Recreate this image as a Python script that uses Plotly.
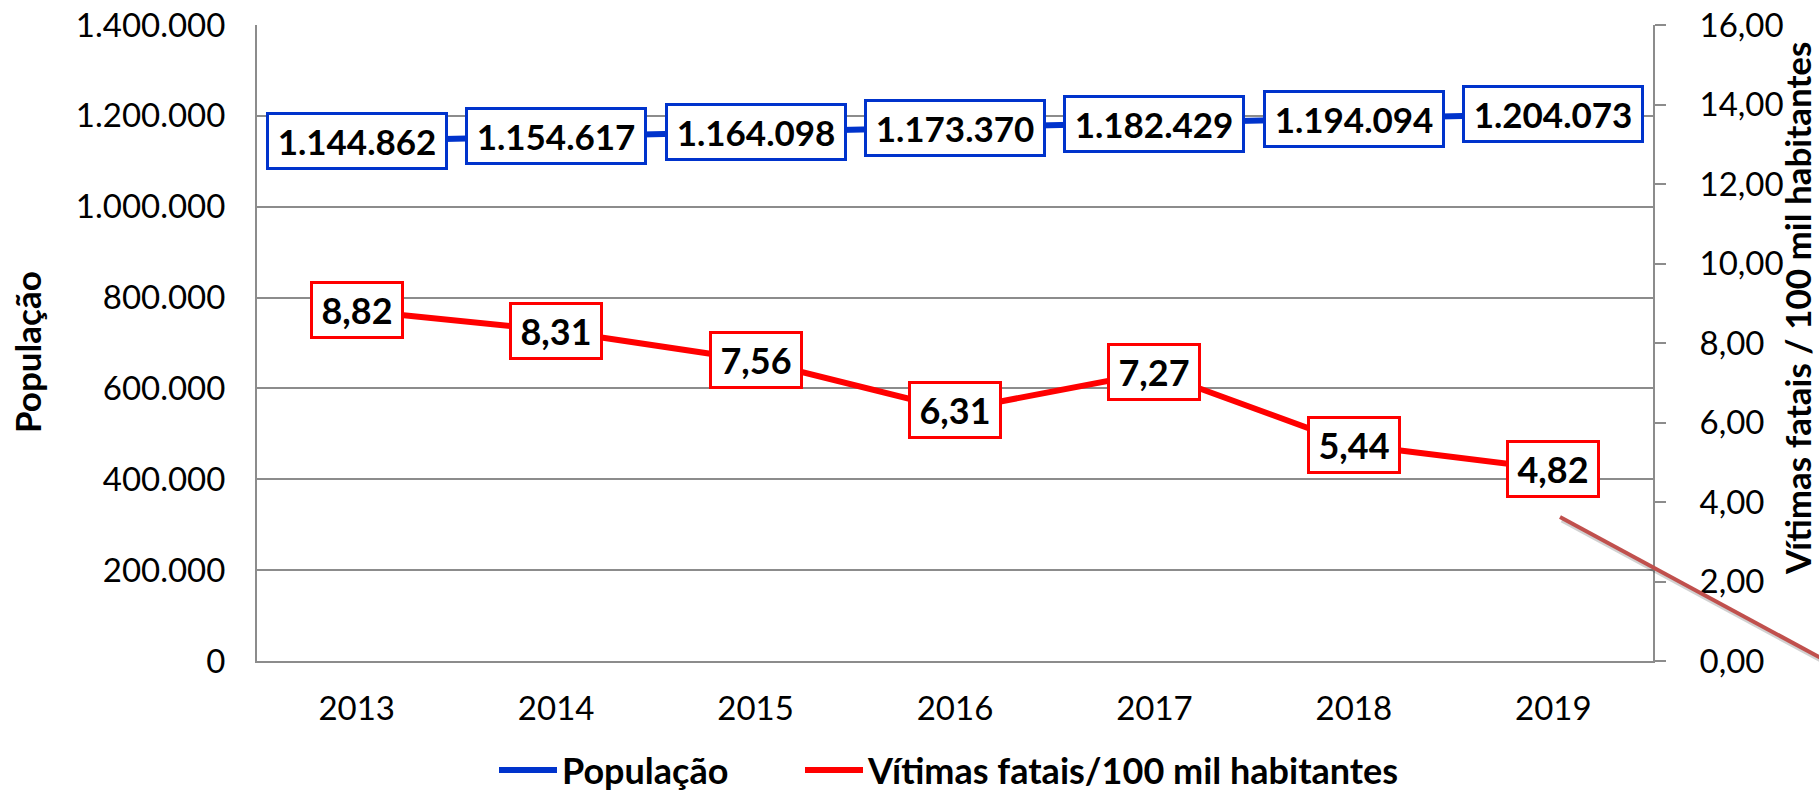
import plotly.graph_objects as go

# ---- data ----
anos = ["2013", "2014", "2015", "2016", "2017", "2018", "2019"]
populacao = [1144862, 1154617, 1164098, 1173370, 1182429, 1194094, 1204073]
vitimas_100mil = [8.82, 8.31, 7.56, 6.31, 7.27, 5.44, 4.82]

nome_pop = "População"
nome_vit = "Vítimas fatais/100 mil habitantes"
titulo_y1 = "População"
titulo_y2 = "Vítimas fatais / 100 mil habitantes"

# ---- style ----
BLUE = "#0033CC"
RED = "#FF0000"
GRID = "#8C8C8C"
FONT = "Lato"
W, H = 1819, 795
ML, MR, MT, MB = 257, 166, 25, 134


def fmt_int(v):
    return f"{v:,}".replace(",", ".")


def fmt_dec(v):
    return f"{v:.2f}".replace(".", ",")


fig = go.Figure()
fig.add_trace(go.Scatter(x=anos, y=populacao, name=nome_pop, mode="lines",
                         line=dict(color=BLUE, width=6), yaxis="y", legend="legend"))
fig.add_trace(go.Scatter(x=anos, y=vitimas_100mil, name=nome_vit, mode="lines",
                         line=dict(color=RED, width=6), yaxis="y2", legend="legend2"))

ann = []
for i, p in enumerate(populacao):
    ann.append(dict(x=i, y=p, xref="x", yref="y", text=fmt_int(p), showarrow=False,
                    font=dict(family=FONT, size=35, color="black", weight="bold"),
                    bgcolor="white", bordercolor=BLUE, borderwidth=3, borderpad=4,
                    width=168, height=44))
for i, v in enumerate(vitimas_100mil):
    ann.append(dict(x=i, y=v, xref="x", yref="y2", text=fmt_dec(v), showarrow=False,
                    font=dict(family=FONT, size=36, color="black", weight="bold"),
                    bgcolor="white", bordercolor=RED, borderwidth=3, borderpad=4,
                    width=80, height=44))

pw = W - ML - MR
ph = H - MT - MB
# axis titles
ann.append(dict(x=(27 - ML) / pw, y=(H - MB - 352) / ph, xref="paper", yref="paper",
                xanchor="center", yanchor="middle",
                text=titulo_y1, textangle=-90, showarrow=False,
                font=dict(family=FONT, size=35, color="black", weight="bold")))
ann.append(dict(x=(1797 - ML) / pw, y=(H - MB - 309) / ph, xref="paper", yref="paper",
                xanchor="center", yanchor="middle",
                text=titulo_y2, textangle=-90, showarrow=False,
                font=dict(family=FONT, size=35, color="black", weight="bold")))

# decorative diagonal line (drawn shape in the original)
x0p, y0p = 1560, 517
x1p, y1p = 1830, 663
shapes = [
    dict(type="line", xref="paper", yref="paper",
         x0=(x0p + 2 - ML) / pw, y0=(H - MB - (y0p + 3)) / ph,
         x1=(x1p + 2 - ML) / pw, y1=(H - MB - (y1p + 3)) / ph,
         line=dict(color="rgba(0,0,0,0.18)", width=5)),
    dict(type="line", xref="paper", yref="paper",
         x0=(x0p - ML) / pw, y0=(H - MB - y0p) / ph,
         x1=(x1p - ML) / pw, y1=(H - MB - y1p) / ph,
         line=dict(color="#C0504D", width=4)),
]

leg_common = dict(orientation="h", xanchor="left", y=(H - MB - 770) / ph, yanchor="middle",
                  font=dict(family=FONT, size=36, color="black", weight="bold"),
                  bgcolor="rgba(0,0,0,0)", itemwidth=58)

fig.update_layout(
    width=W, height=H,
    margin=dict(l=ML, r=MR, t=MT, b=MB, pad=0, autoexpand=False),
    paper_bgcolor="white", plot_bgcolor="white",
    separators=",.",
    font=dict(family=FONT, size=33, color="black"),
    showlegend=True,
    legend=dict(x=(494 - ML) / pw, **leg_common),
    legend2=dict(x=(800 - ML) / pw, **leg_common),
    xaxis=dict(type="category", range=[-0.5, len(anos) - 0.5], showgrid=False,
               showline=True, linecolor=GRID, linewidth=2,
               ticks="", ticklabelstandoff=17, tickfont=dict(size=33), zeroline=False),
    yaxis=dict(range=[0, 1400000], dtick=200000, tickformat=",d", showgrid=True,
               gridcolor=GRID, gridwidth=2, showline=True, linecolor=GRID, linewidth=2,
               ticks="", ticklabelstandoff=23, tickfont=dict(size=33), zeroline=False),
    yaxis2=dict(range=[0, 16], dtick=2, tickformat=".2f", overlaying="y", side="right",
                showgrid=False, showline=True, linecolor=GRID, linewidth=2,
                ticks="outside", ticklen=11, tickwidth=2, tickcolor=GRID,
                ticklabelstandoff=27, tickfont=dict(size=33), zeroline=False),
    annotations=ann,
    shapes=shapes,
)

fig.write_html("out.html", config={"displayModeBar": False},
               post_script="document.body.style.margin='0';")
